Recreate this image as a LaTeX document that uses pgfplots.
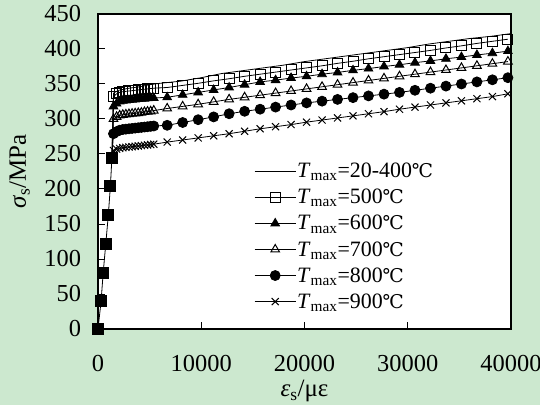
\documentclass[border=0pt]{standalone}
\usepackage{fontspec}
\setmainfont{Liberation Serif}
\newfontfamily\cjk{DejaVu Serif}
\usepackage{pgfplots}
\pgfplotsset{compat=1.18}
\definecolor{bgc}{RGB}{204,232,207}
\newcommand{\degC}{{\cjk\fontsize{19}{23}\selectfont ℃}}
\newcommand{\Tm}{\textit{T}\textsubscript{max}}
\begin{document}
\begin{tikzpicture}
\fill[bgc] (-98bp,-76bp) rectangle (442bp,329bp);
\begin{axis}[
  at={(0,0)}, anchor=south west,
  scale only axis, width=413bp, height=315bp,
  xmin=0, xmax=40000, ymin=0, ymax=450,
  xtick={0,10000,20000,30000,40000}, ytick={0,50,...,450},
  scaled x ticks=false,
  /pgf/number format/1000 sep={},
  /pgf/number format/assume math mode=true,
  tick pos=left, tick align=inside, major tick length=7bp,
  axis line style={line width=1.2bp},
  tick style={line width=1bp, black},
  axis background/.style={fill=white},
  font=\fontsize{25}{30}\selectfont,
  ticklabel style={font=\fontsize{24.5}{29}\selectfont},
  xticklabel style={yshift=-23bp},
  yticklabel style={xshift=-13.5bp},
  xlabel={\textit{ε}\textsubscript{s}/με},
  ylabel={\textit{σ}\textsubscript{s}/MPa},
  xlabel style={at={(rel axis cs:0.5,-0.197)}, anchor=center},
  ylabel style={at={(rel axis cs:-0.19,0.5)}, anchor=center},
  legend style={draw=none, fill=none, at={(rel axis cs:0.378,0.53)}, anchor=north west,
    font=\fontsize{22}{26}\selectfont, inner sep=0pt, row sep=8bp, nodes={inner sep=1pt}},
  legend cell align=left,
  legend image code/.code={\draw[mark repeat=2,mark phase=2] plot coordinates {(0bp,0bp)(20.5bp,0bp)(41bp,0bp)};},
  every axis plot/.append style={black, line width=0.8bp},
]
\addplot[no marks] coordinates {(1350,245)(1500,337)(2000,341)(3000,344)(4000,346)(5000,349)(6000,351)(8000,354)(10000,359)(12000,365)(14000,369)(16000,373)(18000,377)(20000,382)(22000,386)(24000,390)(26000,394)(28000,398)(30000,402)(32000,407)(34000,411)(36000,415)(38000,418)(40000,422)};
\addlegendentry{\Tm=20-400\degC}
\addplot[mark=square, mark size=5bp, mark options={fill=white, solid, line width=1bp}, mark phase=2, mark repeat=1] coordinates {(1350,245)(1500,332)(1800,336)(2100,338)(2400,339)(2700,339.5)(3000,340)(3300,340.5)(3600,341)(3900,341.5)(4200,342)(4500,342.5)(4800,343)(5100,343.5)(5400,344)
(6700,345)(8200,348)(9700,351)(11200,354.5)(12700,357.5)(14200,361)(15700,364)(17200,367)(18700,370)(20200,373)(21700,376)(23200,379.5)(24700,382.5)(26200,386)(27700,389)(29200,392)(30700,395)(32200,398)(33700,401.5)(35200,404.5)(36700,408)(38200,411)(39700,414)};
\addlegendentry{\Tm=500\degC}
\addplot[mark=triangle*, mark size=5bp, mark options={fill=black, solid}, mark phase=2, mark repeat=1] coordinates {(1350,245)(1500,318)(1800,322)(2100,325)(2400,326)(2700,326.5)(3000,327)(3300,327.5)(3600,328)(3900,328.5)(4200,329)(4500,329)(4800,329.5)(5100,330)(5400,330)
(6700,331)(8200,334.5)(9700,338)(11200,341.5)(12700,345)(14200,349)(15700,353)(17200,355.5)(18700,358.5)(20200,361)(21700,364)(23200,366.5)(24700,369.5)(26200,372)(27700,375)(29200,377.5)(30700,380.5)(32200,383)(33700,386)(35200,388.5)(36700,391.5)(38200,394)(39700,397)};
\addlegendentry{\Tm=600\degC}
\addplot[mark=triangle, mark size=5bp, mark options={fill=white, solid, line width=1bp}, mark phase=2, mark repeat=1] coordinates {(1350,245)(1500,300)(1800,303)(2100,305)(2400,306)(2700,306.5)(3000,307)(3300,307.5)(3600,308)(3900,308.5)(4200,309)(4500,310)(4800,310.5)(5100,311)(5400,312)
(6700,315)(8200,318)(9700,321)(11200,324.5)(12700,328)(14200,331)(15700,334)(17200,337)(18700,340)(20200,343)(21700,346)(23200,349)(24700,352)(26200,355)(27700,358)(29200,361)(30700,364)(32200,367)(33700,370)(35200,373)(36700,376)(38200,379)(39700,382)};
\addlegendentry{\Tm=700\degC}
\addplot[mark=*, mark size=5bp, mark options={fill=black, solid}, mark phase=2, mark repeat=1] coordinates {(1350,245)(1500,279)(1800,282)(2100,284)(2400,285)(2700,285.5)(3000,286)(3300,286.5)(3600,287)(3900,287.5)(4200,288)(4500,288.5)(4800,289)(5100,289.5)(5400,290)
(6700,291)(8200,295)(9700,299)(11200,303)(12700,307.5)(14200,311)(15700,314)(17200,317)(18700,320)(20200,323)(21700,325.5)(23200,328)(24700,330.5)(26200,333)(27700,335.5)(29200,338)(30700,341)(32200,344)(33700,347)(35200,350)(36700,353)(38200,356)(39700,359)};
\addlegendentry{\Tm=800\degC}
\addplot[mark=x, mark size=5bp, mark options={solid, line width=1bp}, mark phase=2, mark repeat=1] coordinates {(1350,245)(1500,255)(1800,257)(2100,258)(2400,259)(2700,259.5)(3000,260)(3300,260.5)(3600,261)(3900,261.5)(4200,262)(4500,262.5)(4800,263)(5100,263.5)(5400,264)
(6700,267)(8200,270)(9700,273)(11200,276)(12700,279)(14200,282.5)(15700,286)(17200,289)(18700,292)(20200,295.5)(21700,298.5)(23200,301.5)(24700,304.5)(26200,307.5)(27700,310.5)(29200,314)(30700,317)(32200,320)(33700,323)(35200,326)(36700,329)(38200,332)(39700,336)};
\addlegendentry{\Tm=900\degC}
\addplot[forget plot, mark=square*, mark size=5.5bp, mark options={fill=black, solid}] coordinates {(0,0)(300,40)(500,80)(750,121)(1000,163)(1200,204)(1350,245)};
\end{axis}
\pgfresetboundingbox
\path (-98bp,-76bp) rectangle (442bp,329bp);
\end{tikzpicture}
\end{document}
